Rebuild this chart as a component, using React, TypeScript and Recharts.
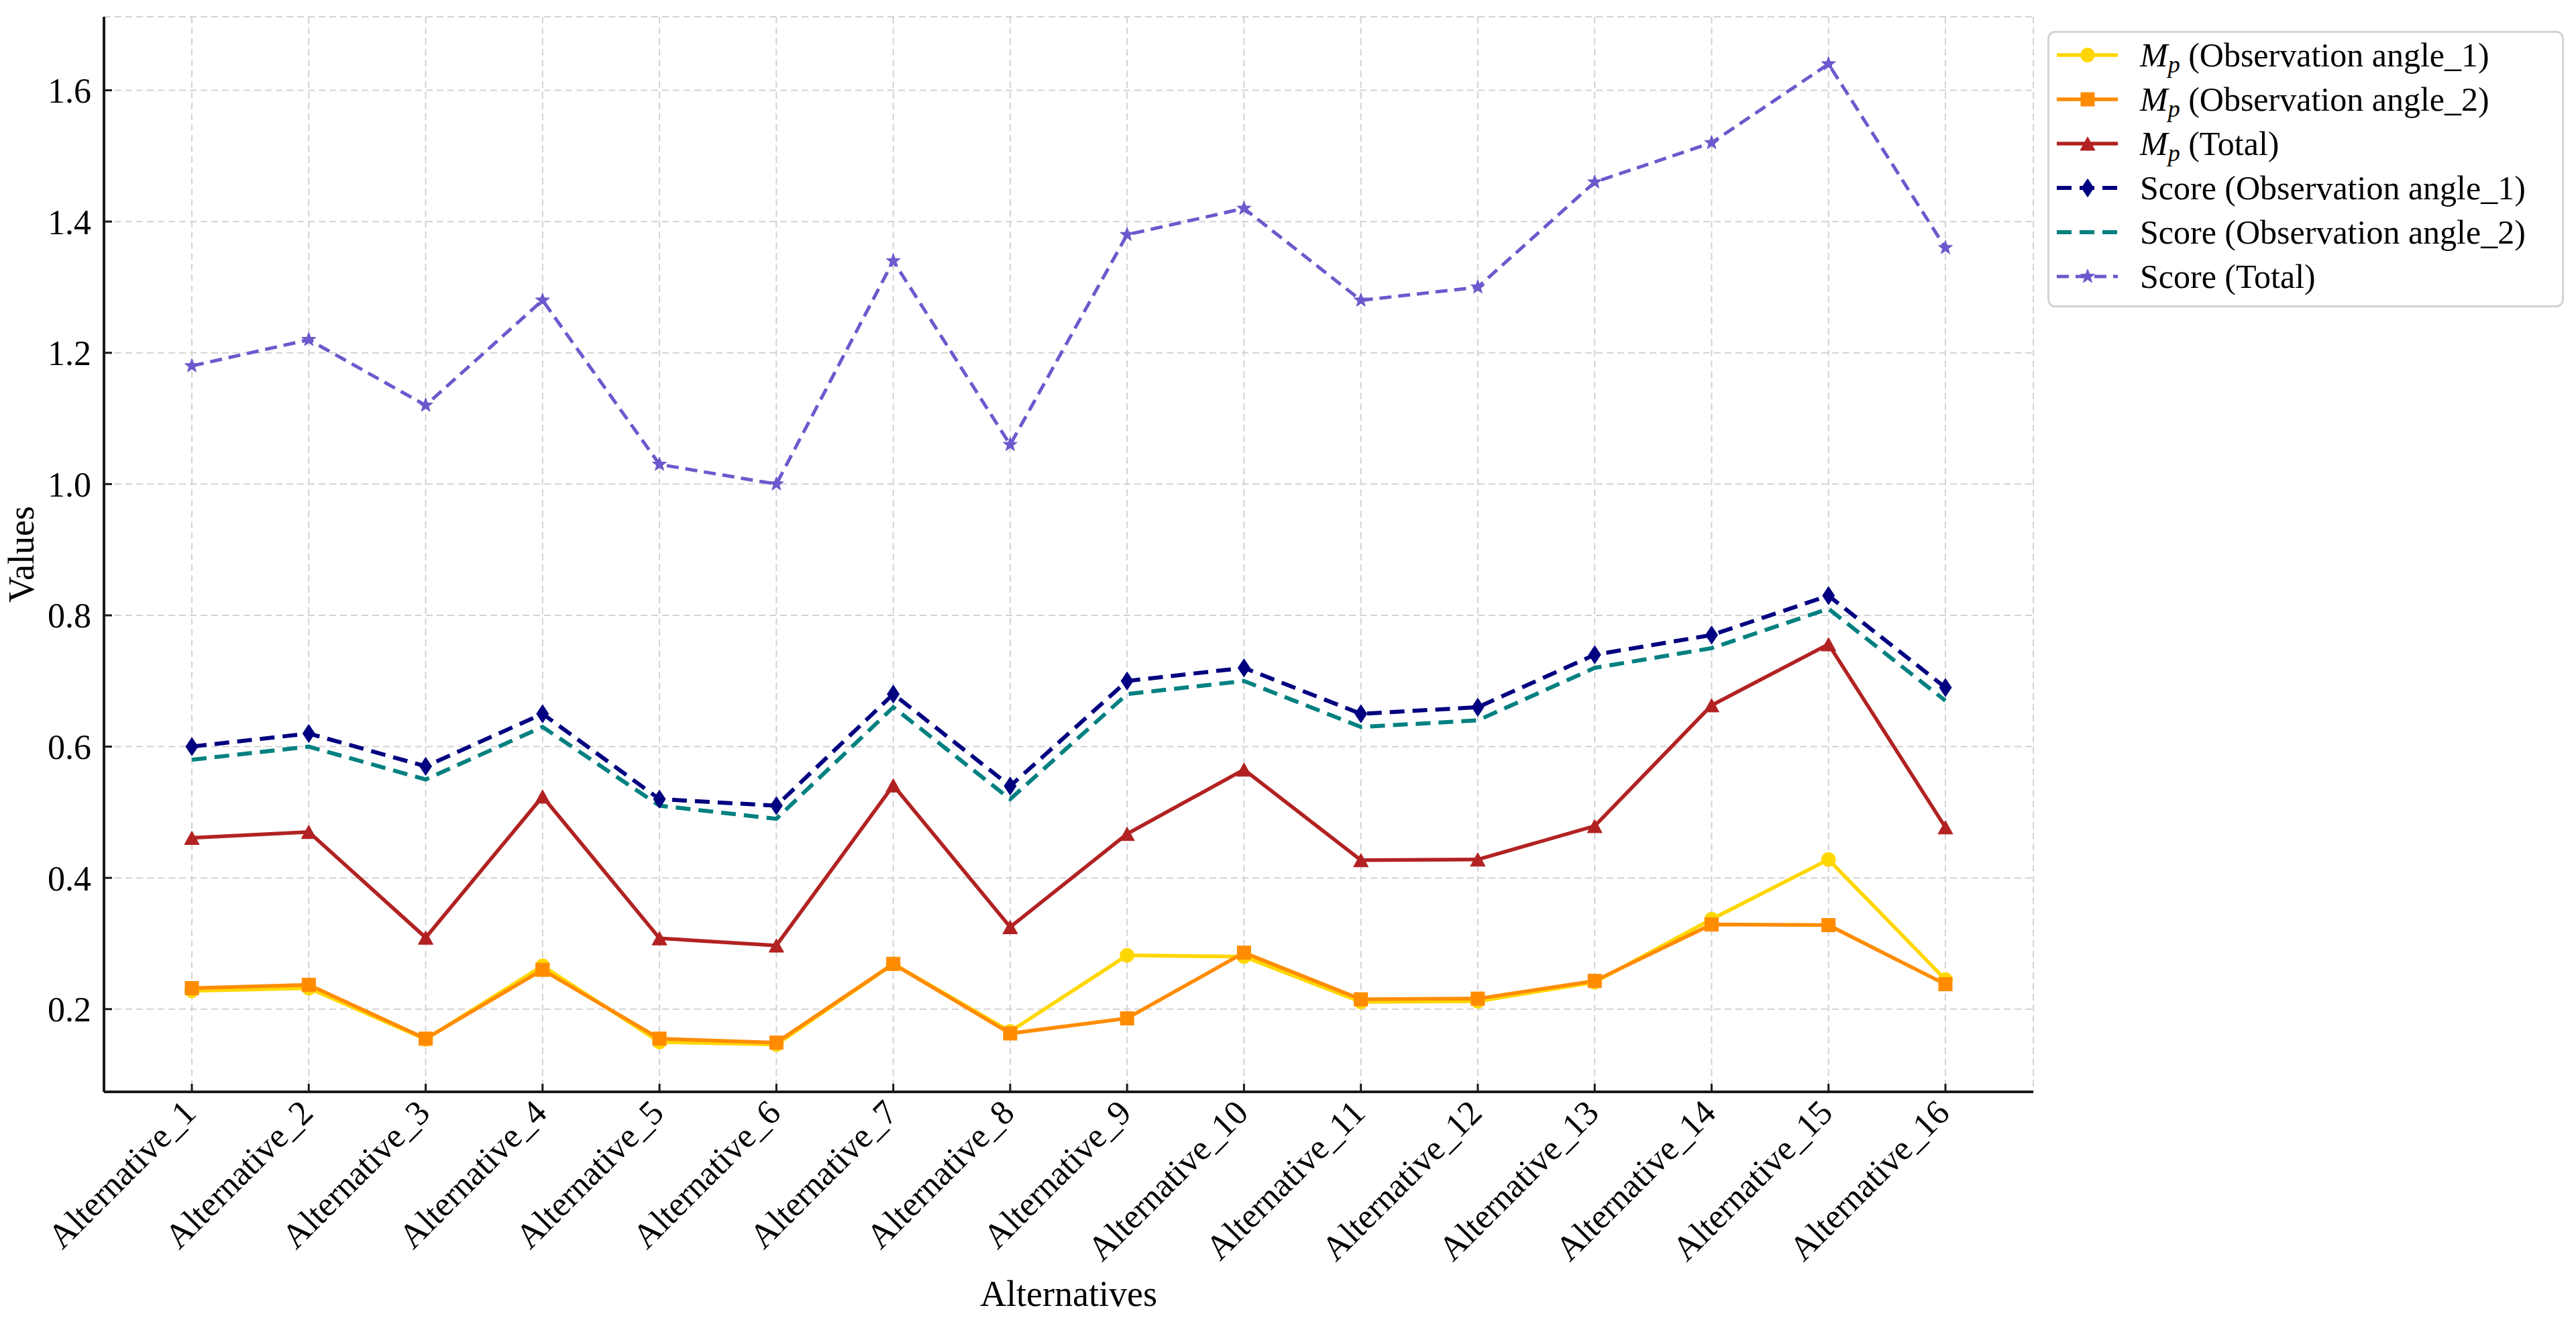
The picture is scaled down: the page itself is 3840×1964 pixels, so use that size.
import React from 'react';
import { LineChart, Line, XAxis, YAxis, CartesianGrid, Legend } from 'recharts';

if (typeof document !== 'undefined') {
  document.body.style.margin = '0';
}

const categories = [
  'Alternative_1', 'Alternative_2', 'Alternative_3', 'Alternative_4',
  'Alternative_5', 'Alternative_6', 'Alternative_7', 'Alternative_8',
  'Alternative_9', 'Alternative_10', 'Alternative_11', 'Alternative_12',
  'Alternative_13', 'Alternative_14', 'Alternative_15', 'Alternative_16',
];

const mpAngle1 = [0.228, 0.232, 0.154, 0.266, 0.150, 0.146, 0.269, 0.166, 0.282, 0.280, 0.211, 0.212, 0.241, 0.337, 0.428, 0.245];
const mpAngle2 = [0.232, 0.237, 0.155, 0.260, 0.155, 0.149, 0.269, 0.163, 0.186, 0.286, 0.215, 0.216, 0.243, 0.329, 0.328, 0.238];
const mpTotal = [0.461, 0.470, 0.309, 0.524, 0.308, 0.297, 0.541, 0.325, 0.467, 0.565, 0.427, 0.428, 0.479, 0.663, 0.756, 0.477];
const scoreAngle1 = [0.60, 0.62, 0.57, 0.65, 0.52, 0.51, 0.68, 0.54, 0.70, 0.72, 0.65, 0.66, 0.74, 0.77, 0.83, 0.69];
const scoreAngle2 = [0.58, 0.60, 0.55, 0.63, 0.51, 0.49, 0.66, 0.52, 0.68, 0.70, 0.63, 0.64, 0.72, 0.75, 0.81, 0.67];
const scoreTotal = [1.18, 1.22, 1.12, 1.28, 1.03, 1.00, 1.34, 1.06, 1.38, 1.42, 1.28, 1.30, 1.46, 1.52, 1.64, 1.36];

const yTicks = [0.2, 0.4, 0.6, 0.8, 1.0, 1.2, 1.4, 1.6];

const data = categories.map((name, i) => ({
  name,
  mpAngle1: mpAngle1[i],
  mpAngle2: mpAngle2[i],
  mpTotal: mpTotal[i],
  scoreAngle1: scoreAngle1[i],
  scoreAngle2: scoreAngle2[i],
  scoreTotal: scoreTotal[i],
}));

type MarkerKind = 'circle' | 'square' | 'triangle' | 'diamond' | 'star' | 'none';

const series: { key: string; label: string; mp: boolean; color: string; marker: MarkerKind; dash?: string; width: number }[] = [
  { key: 'mpAngle1', label: ' (Observation angle_1)', mp: true, color: '#FFD700', marker: 'circle', width: 5.5 },
  { key: 'mpAngle2', label: ' (Observation angle_2)', mp: true, color: '#FF8C00', marker: 'square', width: 5.5 },
  { key: 'mpTotal', label: ' (Total)', mp: true, color: '#B22222', marker: 'triangle', width: 5.5 },
  { key: 'scoreAngle1', label: 'Score (Observation angle_1)', mp: false, color: '#000080', marker: 'diamond', dash: '22 12', width: 6 },
  { key: 'scoreAngle2', label: 'Score (Observation angle_2)', mp: false, color: '#008080', marker: 'none', dash: '22 12', width: 6 },
  { key: 'scoreTotal', label: 'Score (Total)', mp: false, color: '#6A5ACD', marker: 'star', dash: '18 10', width: 5 },
];

const FONT = "'Liberation Serif', 'Times New Roman', serif";

function starPoints(cx: number, cy: number, ro: number, ri: number) {
  const pts: string[] = [];
  for (let k = 0; k < 10; k++) {
    const r = k % 2 === 0 ? ro : ri;
    const a = -Math.PI / 2 + (k * Math.PI) / 5;
    pts.push(`${cx + r * Math.cos(a)},${cy + r * Math.sin(a)}`);
  }
  return pts.join(' ');
}

const Marker = ({ cx, cy, kind, color }: { cx: number; cy: number; kind: MarkerKind; color: string }) => {
  if (cx == null || cy == null) return null;
  switch (kind) {
    case 'circle':
      return <circle cx={cx} cy={cy} r={10.5} fill={color} stroke={color} strokeWidth={1} />;
    case 'square':
      return <rect x={cx - 10} y={cy - 10} width={20} height={20} fill={color} stroke={color} strokeWidth={1} />;
    case 'triangle':
      return <polygon points={`${cx},${cy - 10} ${cx - 11},${cy + 10} ${cx + 11},${cy + 10}`} fill={color} stroke={color} strokeWidth={1} />;
    case 'diamond':
      return <polygon points={`${cx},${cy - 13.5} ${cx + 9},${cy} ${cx},${cy + 13.5} ${cx - 9},${cy}`} fill={color} stroke={color} strokeWidth={1} />;
    case 'star':
      return <polygon points={starPoints(cx, cy, 11, 4.5)} fill={color} stroke={color} strokeWidth={1} />;
    default:
      return null;
  }
};

const XTick = (props: any) => {
  const { x, y, payload } = props;
  const ax = x + 9;
  const ay = y;
  return (
    <text
      x={ax}
      y={ay}
      textAnchor="end"
      fontSize={52}
      fontFamily={FONT}
      fill="#000"
      transform={`rotate(-45 ${ax} ${ay})`}
    >
      {payload.value}
    </text>
  );
};

const YLabel = (props: any) => {
  const vb = props.viewBox || { x: 0, y: 0, width: 0, height: 0 };
  const cy = vb.y + vb.height / 2;
  const x = 50;
  return (
    <text x={x} y={cy} textAnchor="middle" fontSize={54} fontFamily={FONT} fill="#000" transform={`rotate(-90 ${x} ${cy})`}>
      Values
    </text>
  );
};

const XLabel = (props: any) => {
  const vb = props.viewBox || { x: 0, y: 0, width: 0, height: 0 };
  const cx = vb.x + vb.width / 2;
  const y = vb.y + vb.height - 18;
  return (
    <text x={cx} y={y} textAnchor="middle" fontSize={54} fontFamily={FONT} fill="#000">
      Alternatives
    </text>
  );
};

const LEG_W = 770;
const LEG_H = 412;

const LegendBox = () => (
  <svg width={LEG_W} height={LEG_H} style={{ display: 'block' }}>
    <rect x={1.5} y={1.5} width={LEG_W - 3} height={LEG_H - 3} rx={10} ry={10} fill="#ffffff" fillOpacity={0.85} stroke="#d4d4d4" strokeWidth={3} />
    {series.map((s, i) => {
      const cy = 36 + i * 66;
      return (
        <g key={s.key}>
          <line x1={14} x2={105} y1={cy} y2={cy} stroke={s.color} strokeWidth={s.width} strokeDasharray={s.dash} />
          <Marker cx={60} cy={cy} kind={s.marker} color={s.color} />
          <text x={138} y={cy + 17} fontSize={50} fontFamily={FONT} fill="#000">
            {s.mp ? (
              <>
                <tspan fontStyle="italic">M</tspan>
                <tspan fontStyle="italic" fontSize={36} dy={9}>p</tspan>
                <tspan dy={-9}>{s.label}</tspan>
              </>
            ) : (
              <tspan>{s.label}</tspan>
            )}
          </text>
        </g>
      );
    })}
  </svg>
);

export default function App() {
  return (
    <div style={{ width: 3840, height: 1964, background: '#fff', position: 'relative' }}>
      <LineChart
        width={3840}
        height={1964}
        data={data}
        margin={{ top: 25, right: 809, bottom: 0, left: 0 }}
        style={{ fontFamily: FONT }}
      >
        <CartesianGrid stroke="#d3d3d3" strokeWidth={2} strokeDasharray="10 6" />
        <XAxis
          dataKey="name"
          type="category"
          interval={0}
          padding={{ left: 131, right: 131 }}
          height={337}
          tickSize={-12}
          tickMargin={46}
          tick={<XTick />}
          tickLine={{ stroke: '#1a1a1a', strokeWidth: 3 }}
          axisLine={{ stroke: '#1a1a1a', strokeWidth: 4 }}
          label={<XLabel />}
        />
        <YAxis
          type="number"
          domain={[0.074, 1.712]}
          ticks={yTicks}
          width={155}
          tickSize={-12}
          tickMargin={31}
          tickFormatter={(v: number) => v.toFixed(1)}
          tick={{ fontSize: 52, fill: '#000', fontFamily: FONT }}
          tickLine={{ stroke: '#1a1a1a', strokeWidth: 3 }}
          axisLine={{ stroke: '#1a1a1a', strokeWidth: 4 }}
          label={<YLabel />}
        />
        {series.map((s) => (
          <Line
            key={s.key}
            type="linear"
            dataKey={s.key}
            stroke={s.color}
            strokeWidth={s.width}
            strokeDasharray={s.dash}
            isAnimationActive={false}
            activeDot={false}
            dot={(p: any) => <Marker key={`${s.key}-${p.index}`} cx={p.cx} cy={p.cy} kind={s.marker} color={s.color} />}
          />
        ))}
        <Legend
          layout="vertical"
          align="center"
          verticalAlign="middle"
          wrapperStyle={{ left: 3052, top: 46, width: LEG_W, height: LEG_H }}
          content={() => <LegendBox />}
        />
      </LineChart>
    </div>
  );
}
